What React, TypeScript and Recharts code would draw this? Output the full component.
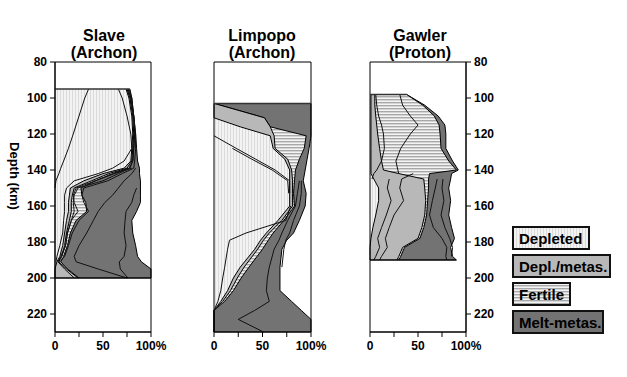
import React from 'react';
import { ComposedChart, Area, Line, XAxis, YAxis, ReferenceArea, ReferenceLine } from 'recharts';

const FONT = '"Liberation Sans", Arial, Helvetica, sans-serif';

const legendLabels = ['Depleted', 'Depl./metas.', 'Fertile', 'Melt-metas.'];
const depthTicks = [80, 100, 120, 140, 160, 180, 200, 220];
const pctTicks = [0, 25, 50, 75, 100];

// ---- Slave (Archon) ----
const slaveDepth = [95, 100, 110, 120, 128, 135, 139, 142, 146, 150, 154, 158, 163, 168, 175, 182, 188, 191, 195, 200];
const slaveDepleted = [74, 77, 80, 81, 80, 79, 72, 50, 30, 16, 15, 14, 14, 12, 10, 8, 5, 2, 0, 0];
const slaveDeplMetas = [75, 78, 81, 82, 81, 80, 75, 56, 38, 20, 18, 17, 17, 15, 12, 10, 7, 4, 12, 24];
const slaveFertile = [76, 79, 82, 83, 82, 81, 77, 60, 42, 27, 28, 32, 33, 22, 16, 13, 9, 6, 13, 25];
const slaveMelt = [78, 80, 82, 84, 85, 86, 88, 88, 89, 89, 89, 89, 85, 80, 81, 84, 86, 90, 100, 100];
const slaveLineA = [35, 31, 25, 19, 14, 9, 6, 4, 1, 0, null, null, null, null, null, null, null, null, null, null];
const slaveLineB = [66, 70, 75, 79, 80, 72, 60, 45, 20, 12, 10, 10, 10, 9, 8, 5, 2, 1, null, null];
const slaveLineC = [null, null, null, null, null, null, 84, 80, 72, 66, 60, 52, 45, 40, 33, 25, 20, 22, 45, 75];
const slaveLineD = [null, null, null, null, null, null, null, null, null, 85, 82, 80, 74, 73, 72, 74, 72, 67, 68, 76];
const slaveLineE = [76, 79, 82, 83, 82, 81, 78, 66, 50, 24, 20, 19, 20, 17, 13, 11, 7, 3, 10, 20];
const slaveLineF = [null, null, null, null, null, null, 80, 62, 42, 22, 19, 20, 24, 17, 13, 11, 6, 3, null, null];
const slaveLineG = [77, 80, 82, 84, 84, 83, 82, 70, 55, 30, 28, 30, 35, 25, 18, 14, 10, 5, null, null];

// ---- Limpopo (Archon) ----
const limDepth = [103, 111, 116, 121, 128, 134, 140, 146, 153, 160, 168, 175, 179, 184, 194, 200, 207, 213, 218, 223, 230];
const limDepleted = [0, 0, 27, 58, 61, 73, 78, 78, 78, 78, 66, 54, 48, 42, 27, 20, 14, 7, 0, 0, 0];
const limDeplMetas = [0, 52, 58, 62, 63, 76, 80, 81, 81, 81, 70, 57, 51, 45, 31, 24, 17, 9, 0, 0, 0];
const limFertile = [0, 52, 58, 95, 93, 88, 84, 83, 82, 83, 72, 61, 56, 50, 36, 28, 20, 11, 0, 0, 0];
const limMelt = [100, 100, 100, 100, 98, 96, 94, 92, 95, 94, 88, 82, 75, 70, 68, 68, 68, 80, 90, 100, 100];
const limLineA = [null, null, null, 0, 23, 43, 63, 78, 78, null, null, null, null, null, null, null, null, null, null, null, null];
const limLineB = [null, null, null, null, 19, 39, 60, 76, 77, null, null, null, null, null, null, null, null, null, null, null, null];
const limLineC = [null, null, null, null, null, null, null, null, null, 79, 74, 33, 16, 14, 11, 9, 7, 4, 0, null, null];
const limLineD = [null, null, null, null, null, null, null, 88, 86, 84, 76, 70, 67, 62, 57, 55, 54, 57, 42, 25, 51];
const limLineE = [null, null, null, null, null, null, null, 90, 90, 88, 82, 78, 74, 72, 70, null, null, null, null, null, null];

// ---- Gawler (Proton) ----
const gawDepth = [98, 104, 110, 115, 120, 128, 135, 140, 142, 145, 150, 157, 165, 172, 178, 183, 188, 190];
const gawDepleted = [1, 1, 1, 1, 1, 1, 1, 1, 1, 4, 9, 9, 6, 3, 1, 0, 0, 0];
const gawDeplMetas = [5, 5, 6, 7, 8, 10, 12, 14, 30, 56, 57, 58, 57, 54, 50, 34, 30, 28];
const gawFertile = [38, 55, 67, 72, 73, 74, 82, 90, 62, 61, 61, 60, 59, 56, 52, 36, 32, 30];
const gawMelt = [38, 57, 71, 78, 79, 79, 86, 92, 85, 84, 82, 84, 82, 85, 88, 84, 86, 90];
const gawLineA = [31, 34, 42, 50, 42, 32, 27, 29, 30, null, null, null, null, null, null, null, null, null];
const gawLineB = [6, 7, 9, 12, 14, 15, 12, 7, 4, 2, null, null, null, null, null, null, null, null];
const gawLineC = [null, null, null, null, null, null, null, null, 45, 33, 31, 35, 25, 20, 16, 18, 12, 10];
const gawLineD = [null, null, null, null, null, null, null, null, null, 20, 18, 22, 17, 12, 8, 10, 6, 4];
const gawLineE = [null, null, null, null, null, null, null, null, null, 70, 68, 65, 62, 66, 75, 80, 79, 80];
const gawLineF = [null, null, null, null, null, null, null, null, null, 76, 75, 77, 74, 78, 83, 86, 85, null];

const buildRows = (depth: number[], b1: number[], b2: number[], b3: number[], b4: number[], lines: (number | null)[][]) =>
  depth.map((d, i) => {
    const row: Record<string, number | null> = { depth: d, b1: b1[i], b2: b2[i], b3: b3[i], b4: b4[i] };
    lines.forEach((l, j) => { row['l' + j] = l[i]; });
    return row;
  });

const slaveRows = buildRows(slaveDepth, slaveDepleted, slaveDeplMetas, slaveFertile, slaveMelt,
  [slaveLineA, slaveLineB, slaveLineC, slaveLineD, slaveLineE, slaveLineF, slaveLineG]);
const limRows = buildRows(limDepth, limDepleted, limDeplMetas, limFertile, limMelt, [limLineA, limLineB, limLineC, limLineD, limLineE]);
const gawRows = buildRows(gawDepth, gawDepleted, gawDeplMetas, gawFertile, gawMelt, [gawLineA, gawLineB, gawLineC, gawLineD, gawLineE, gawLineF]);

const FILLS = ['url(#pDepleted)', '#b8b8b8', 'url(#pFertile)', '#737373'];

const tickStyle = { fontSize: 12, fontWeight: 700, fill: '#000', fontFamily: FONT };

type PanelProps = {
  rows: Record<string, number | null>[];
  nLines: number;
  axis: 'left' | 'right' | 'none';
  left: number;
  width: number;
  margin: { top: number; right: number; bottom: number; left: number };
  topEdge: [number, number];
  bottomEdge: [number, number];
};

const Panel = ({ rows, nLines, axis, left, width, margin, topEdge, bottomEdge }: PanelProps) => (
  <div style={{ position: 'absolute', left, top: 0, width, height: 377 }}>
    <ComposedChart width={width} height={377} data={rows} layout="vertical" margin={margin}>
      <XAxis
        type="number"
        domain={[0, 100]}
        ticks={pctTicks}
        tickFormatter={(v: number) => (v === 100 ? '100%' : v % 50 === 0 ? String(v) : '')}
        tick={tickStyle}
        tickSize={5}
        tickMargin={4}
        height={30}
        axisLine={{ stroke: '#000' }}
        tickLine={{ stroke: '#000' }}
        interval={0}
      />
      <YAxis
        type="number"
        dataKey="depth"
        domain={[80, 230]}
        ticks={depthTicks}
        hide={axis === 'none'}
        orientation={axis === 'right' ? 'right' : 'left'}
        width={axis === 'none' ? 0 : axis === 'right' ? 40 : 55}
        tick={tickStyle}
        tickSize={5}
        tickMargin={3}
        axisLine={{ stroke: '#000' }}
        tickLine={{ stroke: '#000' }}
        interval={0}
      />
      <Area dataKey="b4" fill={FILLS[3]} fillOpacity={1} stroke="#000" strokeWidth={1} isAnimationActive={false} type="linear" />
      <Area dataKey="b3" fill={FILLS[2]} fillOpacity={1} stroke="#000" strokeWidth={1} isAnimationActive={false} type="linear" />
      <Area dataKey="b2" fill={FILLS[1]} fillOpacity={1} stroke="#000" strokeWidth={1} isAnimationActive={false} type="linear" />
      <Area dataKey="b1" fill={FILLS[0]} fillOpacity={1} stroke="#000" strokeWidth={1} isAnimationActive={false} type="linear" />
      {Array.from({ length: nLines }, (_, j) => (
        <Line key={j} dataKey={'l' + j} stroke="#111" strokeWidth={1} dot={false} isAnimationActive={false} type="linear" />
      ))}
      <ReferenceLine segment={[{ x: 0, y: topEdge[0] }, { x: topEdge[1], y: topEdge[0] }]} stroke="#333" strokeWidth={1.5} />
      <ReferenceLine segment={[{ x: 0, y: bottomEdge[0] }, { x: bottomEdge[1], y: bottomEdge[0] }]} stroke="#000" strokeWidth={1.5} />
      <ReferenceArea x1={0} x2={100} y1={80} y2={230} fill="none" fillOpacity={0} stroke="#000" strokeWidth={1} ifOverflow="visible" />
    </ComposedChart>
  </div>
);

const titles = [
  { x: 104, lines: ['Slave', '(Archon)'] },
  { x: 262, lines: ['Limpopo', '(Archon)'] },
  { x: 420, lines: ['Gawler', '(Proton)'] },
];

const legendBoxes = [
  { y: 227, w: 76 },
  { y: 255, w: 97 },
  { y: 283, w: 57 },
  { y: 311, w: 90 },
];

export default function App() {
  return (
    <div style={{ position: 'absolute', left: 0, top: 0, width: 627, height: 377, background: '#fff', fontFamily: FONT }}>
      <svg width={0} height={0} style={{ position: 'absolute' }}>
        <defs>
          <pattern id="pDepleted" patternUnits="userSpaceOnUse" width={3} height={3}>
            <rect width={3} height={3} fill="#f3f3f3" />
            <rect x={0} width={1} height={3} fill="#dadada" />
          </pattern>
          <pattern id="pFertile" patternUnits="userSpaceOnUse" width={3} height={3}>
            <rect width={3} height={3} fill="#f4f4f4" />
            <rect y={0} width={3} height={1.4} fill="#a8a8a8" />
          </pattern>
        </defs>
      </svg>
      <Panel rows={slaveRows} nLines={7} axis="left" left={0} width={175}
        margin={{ top: 62, right: 24, bottom: 15, left: 0 }}
        topEdge={[slaveDepth[0], slaveMelt[0]]} bottomEdge={[slaveDepth[slaveDepth.length - 1], slaveMelt[slaveMelt.length - 1]]} />
      <Panel rows={limRows} nLines={5} axis="none" left={200} width={130}
        margin={{ top: 62, right: 19, bottom: 15, left: 14 }}
        topEdge={[limDepth[0], limMelt[0]]} bottomEdge={[limDepth[limDepth.length - 1], 0]} />
      <Panel rows={gawRows} nLines={6} axis="right" left={330} width={185}
        margin={{ top: 62, right: 9, bottom: 15, left: 40 }}
        topEdge={[gawDepth[0], gawFertile[0]]} bottomEdge={[gawDepth[gawDepth.length - 1], gawMelt[gawMelt.length - 1]]} />
      <svg width={627} height={377} style={{ position: 'absolute', left: 0, top: 0, pointerEvents: 'none' }}>
        {titles.map((t) => (
          <text key={t.x} x={t.x} textAnchor="middle" fontFamily={FONT} fontWeight={700} fontSize={16} fill="#000">
            <tspan x={t.x} y={41}>{t.lines[0]}</tspan>
            <tspan x={t.x} y={58}>{t.lines[1]}</tspan>
          </text>
        ))}
        <text x={9.5} y={176} transform="rotate(90 9.5 176)" textAnchor="middle" fontFamily={FONT} fontWeight={700} fontSize={13} fill="#000">
          Depth (km)
        </text>
        {legendBoxes.map((b, i) => (
          <g key={legendLabels[i]}>
            <rect x={513} y={b.y} width={b.w} height={22} fill={FILLS[i]} stroke="#111" strokeWidth={2} />
            <text x={519} y={b.y + 16.5} fontFamily={FONT} fontWeight={700} fontSize={15} fill="#000">{legendLabels[i]}</text>
          </g>
        ))}
      </svg>
    </div>
  );
}
